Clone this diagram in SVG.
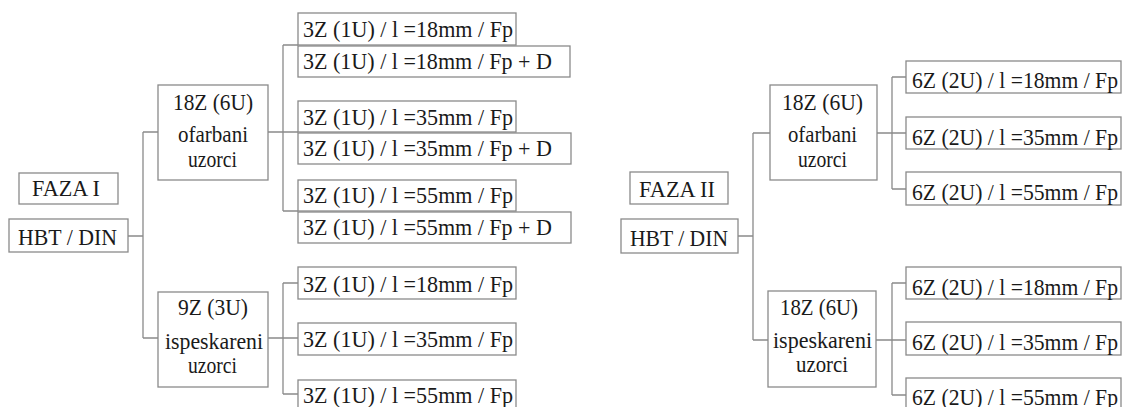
<svg xmlns="http://www.w3.org/2000/svg" width="1129" height="407" viewBox="0 0 1129 407">
<style>
.b{fill:none;stroke:#8a8a8a;stroke-width:1.3}
.c{fill:none;stroke:#8a8a8a;stroke-width:1.3}
.t{font-family:"Liberation Serif","Times New Roman",serif;font-size:24px;fill:#1a1a1a}
</style>
<rect width="1129" height="407" fill="#fff"/>
<g id="connectors">
<path class="c" d="M128,236H143M143,132V338M143,132H158M143,338H158"/>
<path class="c" d="M268,132H298M283,45V211M283,45H298M283,211H298"/>
<path class="c" d="M268,338H298M283,283V394M283,283H298M283,394H298"/>
<path class="c" d="M738,236H753M753,133V340M753,133H770M753,340H768"/>
<path class="c" d="M877,133H906M892,77V189M892,77H906M892,189H906"/>
<path class="c" d="M876,340H906M892,283V395M892,283H906M892,395H906"/>
</g>
<g id="faza1"><rect class="b" x="19" y="173" width="99" height="31"/><text class="t" x="32" y="196" textLength="68" lengthAdjust="spacingAndGlyphs">FAZA I</text></g>
<g id="hbt1"><rect class="b" x="9" y="219" width="119" height="33"/><text class="t" x="18" y="245" textLength="99" lengthAdjust="spacingAndGlyphs">HBT / DIN</text></g>
<g id="ofarbani1"><rect class="b" x="158" y="85" width="110" height="95"/>
<text class="t" x="173" y="110" textLength="80" lengthAdjust="spacingAndGlyphs">18Z (6U)</text>
<text class="t" x="178" y="142" textLength="70" lengthAdjust="spacingAndGlyphs">ofarbani</text>
<text class="t" x="188" y="167" textLength="49" lengthAdjust="spacingAndGlyphs">uzorci</text></g>
<g id="ispeskareni1"><rect class="b" x="158" y="292" width="110" height="95"/>
<text class="t" x="178" y="315" textLength="70" lengthAdjust="spacingAndGlyphs">9Z (3U)</text>
<text class="t" x="165" y="349" textLength="98" lengthAdjust="spacingAndGlyphs">ispeskareni</text>
<text class="t" x="188" y="373" textLength="49" lengthAdjust="spacingAndGlyphs">uzorci</text></g>
<g id="l1"><rect class="b" x="298" y="13" width="218" height="32"/><text class="t" x="303" y="37" textLength="210" lengthAdjust="spacingAndGlyphs">3Z (1U) / l =18mm / Fp</text></g>
<g id="l2"><rect class="b" x="298" y="46" width="272" height="31"/><text class="t" x="303" y="69" textLength="249" lengthAdjust="spacingAndGlyphs">3Z (1U) / l =18mm / Fp + D</text></g>
<g id="l3"><rect class="b" x="298" y="101" width="218" height="31"/><text class="t" x="303" y="125" textLength="210" lengthAdjust="spacingAndGlyphs">3Z (1U) / l =35mm / Fp</text></g>
<g id="l4"><rect class="b" x="298" y="133" width="273" height="31"/><text class="t" x="303" y="156" textLength="249" lengthAdjust="spacingAndGlyphs">3Z (1U) / l =35mm / Fp + D</text></g>
<g id="l5"><rect class="b" x="298" y="180" width="218" height="31"/><text class="t" x="303" y="203" textLength="210" lengthAdjust="spacingAndGlyphs">3Z (1U) / l =55mm / Fp</text></g>
<g id="l6"><rect class="b" x="298" y="212" width="273" height="31"/><text class="t" x="303" y="235" textLength="249" lengthAdjust="spacingAndGlyphs">3Z (1U) / l =55mm / Fp + D</text></g>
<g id="m1"><rect class="b" x="298" y="267" width="218" height="32"/><text class="t" x="303" y="292" textLength="210" lengthAdjust="spacingAndGlyphs">3Z (1U) / l =18mm / Fp</text></g>
<g id="m2"><rect class="b" x="298" y="323" width="218" height="32"/><text class="t" x="303" y="347" textLength="210" lengthAdjust="spacingAndGlyphs">3Z (1U) / l =35mm / Fp</text></g>
<g id="m3"><rect class="b" x="298" y="380" width="218" height="40"/><text class="t" x="303" y="403" textLength="210" lengthAdjust="spacingAndGlyphs">3Z (1U) / l =55mm / Fp</text></g>
<g id="faza2"><rect class="b" x="630" y="172" width="98" height="32"/><text class="t" x="639" y="197" textLength="76" lengthAdjust="spacingAndGlyphs">FAZA II</text></g>
<g id="hbt2"><rect class="b" x="621" y="219" width="117" height="34"/><text class="t" x="630" y="246" textLength="98" lengthAdjust="spacingAndGlyphs">HBT / DIN</text></g>
<g id="ofarbani2"><rect class="b" x="770" y="85" width="107" height="95"/>
<text class="t" x="782" y="110" textLength="81" lengthAdjust="spacingAndGlyphs">18Z (6U)</text>
<text class="t" x="788" y="142" textLength="69" lengthAdjust="spacingAndGlyphs">ofarbani</text>
<text class="t" x="798" y="167" textLength="49" lengthAdjust="spacingAndGlyphs">uzorci</text></g>
<g id="ispeskareni2"><rect class="b" x="768" y="291" width="108" height="96"/>
<text class="t" x="780" y="315" textLength="78" lengthAdjust="spacingAndGlyphs">18Z (6U)</text>
<text class="t" x="773" y="348" textLength="99" lengthAdjust="spacingAndGlyphs">ispeskareni</text>
<text class="t" x="796" y="372" textLength="52" lengthAdjust="spacingAndGlyphs">uzorci</text></g>
<g id="r1"><rect class="b" x="906" y="61" width="215" height="32"/><text class="t" x="912" y="88" textLength="206" lengthAdjust="spacingAndGlyphs">6Z (2U) / l =18mm / Fp</text></g>
<g id="r2"><rect class="b" x="906" y="117" width="215" height="32"/><text class="t" x="912" y="145" textLength="206" lengthAdjust="spacingAndGlyphs">6Z (2U) / l =35mm / Fp</text></g>
<g id="r3"><rect class="b" x="906" y="172" width="215" height="33"/><text class="t" x="912" y="200" textLength="206" lengthAdjust="spacingAndGlyphs">6Z (2U) / l =55mm / Fp</text></g>
<g id="s1"><rect class="b" x="906" y="267" width="215" height="32"/><text class="t" x="912" y="295" textLength="206" lengthAdjust="spacingAndGlyphs">6Z (2U) / l =18mm / Fp</text></g>
<g id="s2"><rect class="b" x="906" y="322" width="215" height="33"/><text class="t" x="912" y="350" textLength="206" lengthAdjust="spacingAndGlyphs">6Z (2U) / l =35mm / Fp</text></g>
<g id="s3"><rect class="b" x="906" y="378" width="215" height="40"/><text class="t" x="912" y="405" textLength="206" lengthAdjust="spacingAndGlyphs">6Z (2U) / l =55mm / Fp</text></g>
</svg>
